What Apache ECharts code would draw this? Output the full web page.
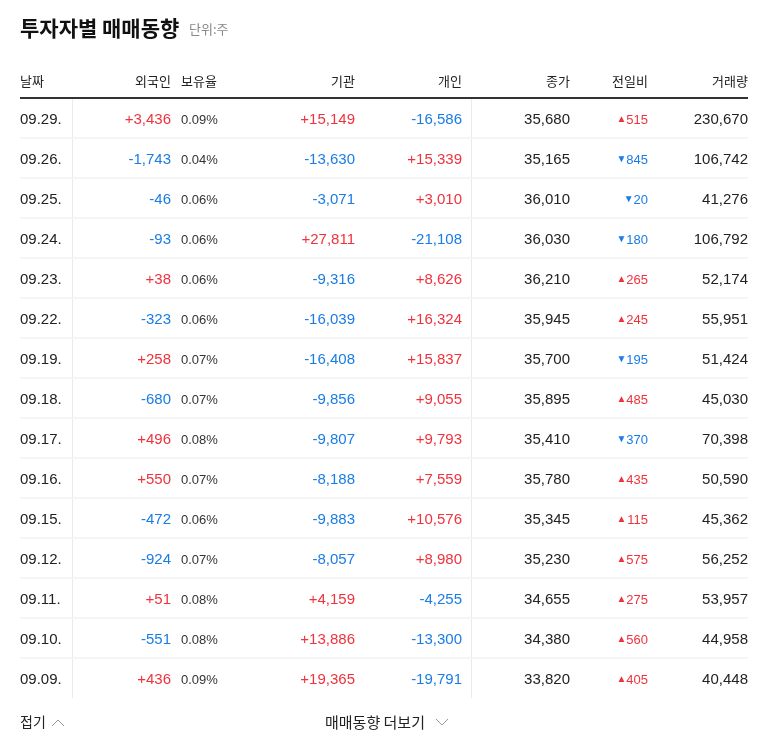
<!DOCTYPE html>
<html><head><meta charset="utf-8">
<script src="https://cdn.jsdelivr.net/npm/echarts@6/dist/echarts.min.js"></script>
<style>html,body{margin:0;padding:0;background:#fff}#c{width:768px;height:749px}</style>
</head><body><div id="c"></div>
<script>
const dates=['09.29.','09.26.','09.25.','09.24.','09.23.','09.22.','09.19.','09.18.','09.17.','09.16.','09.15.','09.12.','09.11.','09.10.','09.09.'];
const foreign=[3436,-1743,-46,-93,38,-323,258,-680,496,550,-472,-924,51,-551,436];
const holdRate=['0.09%','0.04%','0.06%','0.06%','0.06%','0.06%','0.07%','0.07%','0.08%','0.07%','0.06%','0.07%','0.08%','0.08%','0.09%'];
const inst=[15149,-13630,-3071,27811,-9316,-16039,-16408,-9856,-9807,-8188,-9883,-8057,4159,13886,19365];
const indiv=[-16586,15339,3010,-21108,8626,16324,15837,9055,9793,7559,10576,8980,-4255,-13300,-19791];
const closePx=[35680,35165,36010,36030,36210,35945,35700,35895,35410,35780,35345,35230,34655,34380,33820];
const change=[515,-845,-20,-180,265,245,-195,485,-370,435,115,575,275,560,405];
const volume=[230670,106742,41276,106792,52174,55951,51424,45030,70398,50590,45362,56252,53957,44958,40448];
const headers=['날짜','외국인','보유율','기관','개인','종가','전일비','거래량'];

const RED='#f0323c',BLUE='#1a7ce6',DARK='#222',NUM='Liberation Sans, Arial, sans-serif',KR='"Noto Sans CJK KR", sans-serif';
const fmt=v=>Math.abs(v).toLocaleString('en-US');
const sfmt=v=>(v>0?'+':'-')+fmt(v);
const col=v=>v>0?RED:BLUE;
const chart=echarts.init(document.getElementById('c'));
function txt(x,y,s,color,align,size,font){return {type:'text',x:x,y:y,style:{text:s,fill:color,align:align,verticalAlign:'middle',fontSize:size||14,fontFamily:font||NUM}};}
chart.setOption({
  animation:false,
  grid:{left:20,right:20,top:98,bottom:51},
  xAxis:{type:'value',min:0,max:728,show:false},
  yAxis:{type:'category',data:dates,inverse:true,show:false},
  graphic:[
    {type:'text',left:20,top:18,style:{text:'투자자별 매매동향',fontSize:21,fontWeight:'bold',fill:'#111',fontFamily:KR}},
    {type:'text',left:189,top:23,style:{text:'단위:주',fontSize:13,fill:'#888',fontFamily:KR}},
    txt(20,81,headers[0],DARK,'left',13,KR),
    txt(171,81,headers[1],DARK,'right',13,KR),
    txt(181,81,headers[2],DARK,'left',13,KR),
    txt(355,81,headers[3],DARK,'right',13,KR),
    txt(462,81,headers[4],DARK,'right',13,KR),
    txt(570,81,headers[5],DARK,'right',13,KR),
    txt(648,81,headers[6],DARK,'right',13,KR),
    txt(748,81,headers[7],DARK,'right',13,KR),
    {type:'rect',shape:{x:20,y:97,width:728,height:2},style:{fill:'#333'}},
    txt(20,722,'접기',DARK,'left',14,KR),
    {type:'polyline',shape:{points:[[52,726],[58,720],[64,726]]},style:{stroke:'#999',lineWidth:1,fill:null}},
    txt(325,722,'매매동향 더보기',DARK,'left',15,KR),
    {type:'polyline',shape:{points:[[436,719],[442,725],[448,719]]},style:{stroke:'#999',lineWidth:1,fill:null}}
  ],
  series:[{
    type:'custom',
    data:dates.map((d,i)=>[0,i]),
    renderItem:function(params,api){
      const i=api.value(1);
      const c=api.coord([0,i]);
      const h=api.size([0,1])[1];
      const y=c[1]+2, x0=c[0];
      const top=c[1]-h/2, bot=c[1]+h/2;
      const ch=[];
      if(i<dates.length-1) ch.push({type:'line',shape:{x1:x0,y1:bot,x2:x0+728,y2:bot},style:{stroke:'#ebebeb',lineWidth:1}});
      ch.push({type:'line',shape:{x1:72.5,y1:top+1,x2:72.5,y2:bot},style:{stroke:'#ebebeb',lineWidth:1}});
      ch.push({type:'line',shape:{x1:471.5,y1:top+1,x2:471.5,y2:bot},style:{stroke:'#ebebeb',lineWidth:1}});
      ch.push(txt(20,y,dates[i],DARK,'left',15));
      ch.push(txt(171,y,sfmt(foreign[i]),col(foreign[i]),'right',15));
      ch.push(txt(181,y,holdRate[i],'#333','left',13));
      ch.push(txt(355,y,sfmt(inst[i]),col(inst[i]),'right',15));
      ch.push(txt(462,y,sfmt(indiv[i]),col(indiv[i]),'right',15));
      ch.push(txt(570,y,fmt(closePx[i]),DARK,'right',15));
      const v=change[i];
      ch.push(txt(648,y,fmt(v),col(v),'right',13));
      const tw=fmt(v).length*7.2;
      ch.push(txt(648-tw,y-1,v>0?'▲':'▼',col(v),'right',10));
      ch.push(txt(748,y,fmt(volume[i]),DARK,'right',15));
      return {type:'group',children:ch};
    }
  }]
});
</script></body></html>
